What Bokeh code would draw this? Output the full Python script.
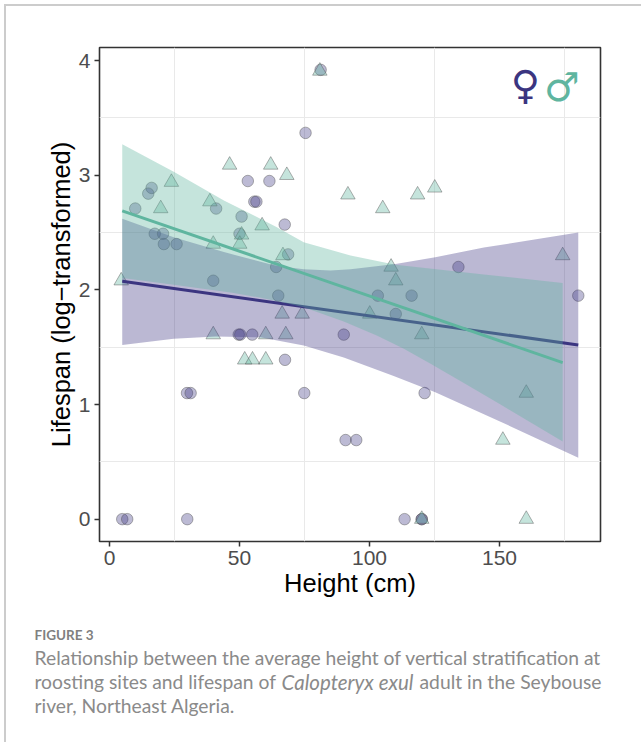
from bokeh.plotting import figure
from bokeh.embed import file_html
from bokeh.resources import INLINE
from bokeh.models import Range1d, FixedTicker, Label, Grid, LinearAxis

# ---- data ----
female_x = [81.2, 75.4, 53.2, 61.5, 55.7, 56.5, 67.4, 16.2, 14.9, 9.9, 41.0, 50.8, 17.4, 20.6, 50.0,
            20.9, 25.8, 68.7, 64.1, 39.9, 64.9, 49.7, 50.3, 54.9, 90.1, 67.5, 29.8, 31.2, 74.9,
            90.8, 94.9, 4.9, 6.8, 29.9, 113.5, 120.1, 120.1, 121.2, 103.2, 116.2, 110.1, 180.3, 134.2]
female_y = [3.92, 3.37, 2.95, 2.95, 2.77, 2.77, 2.57, 2.89, 2.84, 2.71, 2.71, 2.64, 2.49, 2.49, 2.49,
            2.40, 2.40, 2.31, 2.20, 2.08, 1.95, 1.61, 1.61, 1.61, 1.61, 1.39, 1.10, 1.10, 1.10,
            0.69, 0.69, 0.0, 0.0, 0.0, 0.0, 0.0, 0.0, 1.10, 1.95, 1.95, 1.79, 1.95, 2.20]
male_x = [80.9, 46.2, 62.0, 68.2, 23.8, 91.7, 38.6, 19.7, 58.7, 50.8, 50.1, 39.9, 66.7, 4.5,
          105.1, 118.5, 125.1, 108.3, 110.1, 174.3, 66.4, 74.1, 39.9, 60.1, 67.8, 52.0, 55.0, 60.1,
          100.1, 120.1, 160.3, 151.3, 160.3, 120.1]
male_y = [3.91, 3.09, 3.09, 3.00, 2.94, 2.83, 2.77, 2.71, 2.56, 2.48, 2.40, 2.40, 2.30, 2.08,
          2.71, 2.83, 2.89, 2.20, 2.08, 2.30, 1.79, 1.79, 1.61, 1.61, 1.61, 1.39, 1.39, 1.39,
          1.79, 1.61, 1.10, 0.69, 0.0, 0.0]

f_line_x = [4.9, 180.3]
f_line_y = [2.075, 1.52]
m_line_x = [4.9, 174.3]
m_line_y = [2.69, 1.366]

f_band_x = [4.9, 24.7, 44.0, 64.0, 74.7, 85.0, 92.7, 110.0, 125.3, 144.0, 180.3]
f_upper = [2.62, 2.46, 2.33, 2.21, 2.18, 2.17, 2.18, 2.227, 2.285, 2.37, 2.50]
f_low_x = [4.9, 24.7, 40.8, 58.0, 74.7, 90.1, 109.3, 125.3, 150.4, 180.3]
f_lower = [1.52, 1.573, 1.593, 1.587, 1.514, 1.41, 1.25, 1.107, 0.85, 0.535]
m_band_x = [4.9, 24.7, 44.0, 64.2, 74.7, 92.7, 110.0, 144.0, 174.3]
m_upper = [3.27, 3.03, 2.78, 2.55, 2.415, 2.30, 2.22, 2.135, 2.06]
m_low_x = [4.9, 24.7, 47.2, 57.3, 67.7, 74.7, 90.1, 103.0, 113.2, 123.5, 137.6, 150.4, 174.3]
m_lower = [2.105, 2.046, 1.975, 1.935, 1.885, 1.848, 1.724, 1.60, 1.486, 1.355, 1.17, 1.0, 0.677]

x_ticks = [0, 50, 100, 150]
y_ticks = [0, 1, 2, 3, 4]
x_grid = [25, 75, 125, 175]
y_grid = [0.5, 1.5, 2.5, 3.5]

FEMALE = "#3b3580"
MALE = "#5fb59f"
OX, OY = 6, 6            # where the canvas starts on the page
W, SPLIT, H = 643, 610, 742
L, R, T, B = 99, 600, 47, 541
EDGE = "2px solid #cccccc"

p = figure(width=W - OX, height=SPLIT - OY, output_backend="svg", toolbar_location=None,
           x_range=Range1d(-3.85, 188.85), y_range=Range1d(-0.195, 4.115),
           min_border_left=L - OX, min_border_right=W - R, min_border_top=T - OY, min_border_bottom=SPLIT - B,
           x_axis_type=None, y_axis_type=None, background_fill_color="white",
           border_fill_color="white", outline_line_color="#333333", outline_line_width=1.6,
           styles={"position": "absolute", "left": "4px", "top": "4px",
                   "border-top": EDGE, "border-left": EDGE})

p.add_layout(Grid(dimension=0, ticker=FixedTicker(ticks=x_grid), grid_line_color="#e9e9e9", grid_line_width=1))
p.add_layout(Grid(dimension=1, ticker=FixedTicker(ticks=y_grid), grid_line_color="#e9e9e9", grid_line_width=1))

def style(ax, label, off):
    ax.axis_label = label
    ax.axis_line_color = None
    ax.major_tick_line_color = "#333333"
    ax.major_tick_line_width = 1.5
    ax.major_tick_in = 0
    ax.major_tick_out = 5
    ax.minor_tick_line_color = None
    ax.major_label_standoff = 4
    ax.major_label_text_font = "Liberation Sans"
    ax.major_label_text_font_size = "21px"
    ax.major_label_text_color = "#4d4d4d"
    ax.axis_label_text_font = "Liberation Sans"
    ax.axis_label_text_font_size = "25.5px"
    ax.axis_label_text_font_style = "normal"
    ax.axis_label_text_color = "black"
    ax.axis_label_standoff = off

xa = LinearAxis(ticker=FixedTicker(ticks=x_ticks))
style(xa, "Height (cm)", 1)
p.add_layout(xa, "below")
ya = LinearAxis(ticker=FixedTicker(ticks=y_ticks))
style(ya, "Lifespan (log\u2212transformed)", 1)
ya.major_label_orientation = "horizontal"
p.add_layout(ya, "left")

p.scatter(female_x, female_y, marker="circle", size=11.5, fill_color=FEMALE, fill_alpha=0.34,
          line_color="#555555", line_alpha=0.45, line_width=1)
p.scatter(male_x, male_y, marker="triangle", size=14.5, fill_color=MALE, fill_alpha=0.36,
          line_color="#555555", line_alpha=0.45, line_width=1)

fxs = f_band_x + f_low_x[::-1]
fys = f_upper + f_lower[::-1]
mxs = m_band_x + m_low_x[::-1]
mys = m_upper + m_lower[::-1]
p.patch(fxs, fys, fill_color=FEMALE, fill_alpha=0.35, line_color=None)
p.line(f_line_x, f_line_y, line_color=FEMALE, line_width=3)
p.patch(mxs, mys, fill_color=MALE, fill_alpha=0.36, line_color=None)
p.line(m_line_x, m_line_y, line_color=MALE, line_width=3)

p.add_layout(Label(x=160, y=3.79, text="\u2640", text_font="DejaVu Sans", text_font_size="40px",
                   text_color=FEMALE, text_align="center", text_baseline="middle", text_font_style="bold"))
p.add_layout(Label(x=174, y=3.77, text="\u2642", text_font="DejaVu Sans", text_font_size="40px",
                   text_color=MALE, text_align="center", text_baseline="middle", text_font_style="bold"))

TOP2 = SPLIT - 2
c = figure(width=W - OX, height=H - TOP2, output_backend="svg", toolbar_location=None,
           x_range=Range1d(OX, W), y_range=Range1d(H, TOP2), x_axis_type=None, y_axis_type=None,
           min_border=0, outline_line_color=None, background_fill_color="white", border_fill_color="white",
           styles={"position": "absolute", "left": "4px", "top": f"{TOP2}px", "border-left": EDGE})
c.grid.visible = False

def cap(x, y, text, size="19.3px", style="normal", color="#8a8a8a"):
    c.add_layout(Label(x=x, y=y, text=text, text_font="Lato", text_font_size=size,
                       text_font_style=style, text_color=color,
                       text_baseline="middle", text_align="left"))

cap(34, 634, "FIGURE 3", "13.5px", "bold", "#808080")
cap(34, 657, "Relationship between the average height of vertical stratification at")
cap(34, 681, "roosting sites and lifespan of")
cap(281, 681, "Calopteryx exul", size="20.5px", style="italic")
cap(419, 681, "adult in the Seybouse")
cap(34, 705, "river, Northeast Algeria.")

open("out.html", "w").write(file_html([p, c], INLINE))
